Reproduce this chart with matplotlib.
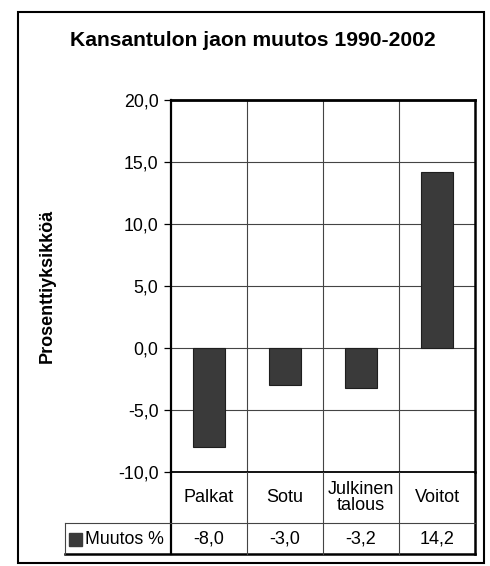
import matplotlib
matplotlib.use("Agg")
import matplotlib.pyplot as plt
from matplotlib.patches import Rectangle

title = "Kansantulon jaon muutos 1990-2002"
ylabel = "Prosenttiyksikköä"
categories = ["Palkat", "Sotu", "Julkinen\ntalous", "Voitot"]
values = [-8.0, -3.0, -3.2, 14.2]
series_name = "Muutos %"
yticks = [-10, -5, 0, 5, 10, 15, 20]

W, H = 490, 566
plt.rcParams['font.family'] = ['Liberation Sans', 'DejaVu Sans']
fig = plt.figure(figsize=(W / 100, H / 100), dpi=100)
fig.patch.set_facecolor('white')

def fx(px):
    return px / W

def fy(py):
    return 1 - py / H

# plot area in pixels
L, R, T, B = 171, 475, 100, 472
TB1, TB2 = 523, 554   # table row boundaries
LEG_L = 65
BAR_COLOR = '#3a3a3a'
GRID_COLOR = '#444444'

ax = fig.add_axes([fx(L), fy(B), fx(R) - fx(L), fy(T) - fy(B)])
x = list(range(len(categories)))
ax.bar(x, values, width=0.42, color=BAR_COLOR, edgecolor='#1e1e1e', lw=0.8, zorder=3)
ax.set_xlim(-0.5, len(categories) - 0.5)
ax.set_ylim(min(yticks), max(yticks))
ax.set_yticks(yticks)
ax.set_yticklabels([f"{v:.1f}".replace('.', ',') for v in yticks], fontsize=12.8)
ax.set_xticks([])
for v in yticks[1:-1]:
    ax.axhline(v, color=GRID_COLOR, lw=0.8, zorder=1)
for xb in [0.5, 1.5, 2.5]:
    ax.axvline(xb, color=GRID_COLOR, lw=0.8, zorder=1)
for s in ax.spines.values():
    s.set_linewidth(1.3)
ax.spines['top'].set_linewidth(2.0)
ax.spines['right'].set_linewidth(1.8)
ax.spines['left'].set_linewidth(1.6)
ax.tick_params(axis='y', direction='out', length=5, width=0.9, pad=4)

# overlay axes for frame and table (pixel coordinates)
ov = fig.add_axes([0, 0, 1, 1], zorder=-1)
ov.set_xlim(0, W)
ov.set_ylim(H, 0)
ov.axis('off')
ov.patch.set_alpha(0)

ov2 = fig.add_axes([0, 0, 1, 1], zorder=5)
ov2.set_xlim(0, W)
ov2.set_ylim(H, 0)
ov2.axis('off')
ov2.patch.set_alpha(0)

# outer frame
ov.add_patch(Rectangle((18, 12), 466, 551, fill=False, lw=1.5, edgecolor='black'))

# table lines
ov2.plot([L, L], [B, TB2], color='black', lw=1.6)
ov2.plot([R, R], [B, TB2], color='black', lw=1.8)
ov2.plot([LEG_L, R], [TB1, TB1], color=GRID_COLOR, lw=0.8)
ov2.plot([LEG_L, R], [TB2, TB2], color='black', lw=1.8)
ov2.plot([LEG_L, LEG_L], [TB1, TB2], color=GRID_COLOR, lw=0.8)
colw = (R - L) / len(categories)
for i in range(1, len(categories)):
    ov2.plot([L + i * colw] * 2, [B, TB2], color=GRID_COLOR, lw=0.8)
for i, (c, v) in enumerate(zip(categories, values)):
    cx = L + (i + 0.5) * colw
    ov2.text(cx, (B + TB1) / 2, c, ha='center', va='center', fontsize=13, linespacing=0.95)
    ov2.text(cx, (TB1 + TB2) / 2 + 1, f"{v:.1f}".replace('.', ','), ha='center', va='center', fontsize=13)

# legend cell
ov2.add_patch(Rectangle((69, 533), 13, 13, color=BAR_COLOR))
ov2.text(85, (TB1 + TB2) / 2 + 1, series_name, ha='left', va='center', fontsize=12.8)

# title and y label
ov2.text(253, 40, title, ha='center', va='center', fontsize=15.2, fontweight='bold')
ov2.text(47, 286, ylabel, ha='center', va='center', fontsize=13, fontweight='bold', rotation=90)

fig.savefig("out.png", dpi=100, facecolor='white')
